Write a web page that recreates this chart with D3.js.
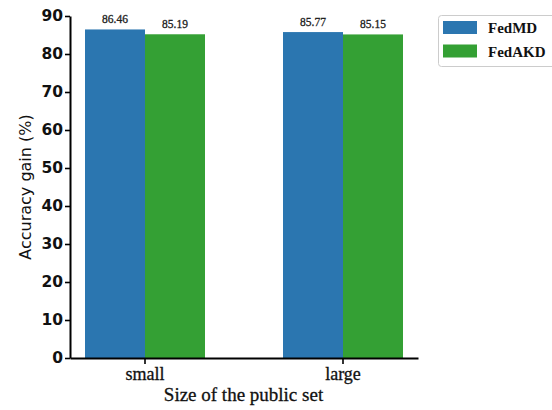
<!DOCTYPE html>
<html><head><meta charset="utf-8">
<script src="https://cdn.jsdelivr.net/npm/d3@7"></script>
<style>body{margin:0;background:#fff}svg{display:block}</style>
</head><body>
<svg id="c" width="552" height="410"></svg>
<script>
const categories = ["small", "large"];
const seriesNames = ["FedMD", "FedAKD"];
const fedMD = [86.46, 85.77];
const fedAKD = [85.19, 85.15];
const yTicks = [0, 10, 20, 30, 40, 50, 60, 70, 80, 90];
const colors = ["#2b76b0", "#34a034"];
const seriesValues = [fedMD, fedAKD];

const svg = d3.select("#c");
const x0 = d3.scaleBand().domain(categories).range([70, 418]).paddingInner(0.2424).paddingOuter(0);
const x1 = d3.scaleBand().domain(seriesNames).range([x0.bandwidth()/2 - 60, x0.bandwidth()/2 + 60]).padding(0);
const y = d3.scaleLinear().domain([0, 90]).range([358, 16]);

// bars
seriesNames.forEach((s, si) => {
  categories.forEach((c, ci) => {
    const v = seriesValues[si][ci];
    const bx = x0(c) + x1(s);
    svg.append("rect").attr("x", bx).attr("y", y(v)).attr("width", x1.bandwidth()).attr("height", y(0) - y(v)).attr("fill", colors[si]);
    svg.append("text").attr("x", bx + x1.bandwidth()/2).attr("y", y(v) - 6)
      .attr("text-anchor", "middle").attr("font-family", "Liberation Serif, serif").attr("font-size", 11.5)
      .attr("fill", "#222").attr("stroke", "#222").attr("stroke-width", 0.3).text(v.toFixed(2));
  });
});

// y axis
const yAxis = d3.axisLeft(y).tickValues(yTicks).tickSize(5).tickSizeOuter(0);
const gy = svg.append("g").attr("transform", "translate(70,0)").call(yAxis);
gy.select(".domain").attr("stroke", "#000").attr("stroke-width", 2);
gy.selectAll(".tick line").attr("stroke", "#000").attr("stroke-width", 1.6);
gy.selectAll(".tick text").attr("font-family", "DejaVu Sans, sans-serif").attr("font-weight", "bold").attr("font-size", 15.5).attr("fill", "#111").attr("x", -7);

// x axis
const gx = svg.append("g").attr("transform", "translate(0,358)").call(d3.axisBottom(x0).tickSize(6).tickSizeOuter(0));
gx.select(".domain").attr("stroke", "#000").attr("stroke-width", 2);
gx.selectAll(".tick line").attr("stroke", "#000").attr("stroke-width", 1.6);
gx.selectAll(".tick text").attr("font-family", "Liberation Serif, serif").attr("font-size", 18).attr("fill", "#111")
  .attr("stroke", "#111").attr("stroke-width", 0.3).attr("y", 9);

// axis titles
svg.append("text").attr("x", 243.5).attr("y", 401).attr("text-anchor", "middle")
  .attr("font-family", "Liberation Serif, serif").attr("font-size", 19).attr("fill", "#111")
  .attr("stroke", "#111").attr("stroke-width", 0.3).text("Size of the public set");
svg.append("text").attr("transform", "translate(31,187) rotate(-90)").attr("text-anchor", "middle")
  .attr("font-family", "DejaVu Sans, sans-serif").attr("font-size", 16).attr("fill", "#111").text("Accuracy gain (%)");

// legend
const lg = svg.append("g");
lg.append("rect").attr("x", 438.5).attr("y", 15.5).attr("width", 130).attr("height", 51).attr("rx", 3)
  .attr("fill", "#fff").attr("stroke", "#ccc").attr("stroke-width", 1);
seriesNames.forEach((s, i) => {
  lg.append("rect").attr("x", 443).attr("y", 21 + i*23.5).attr("width", 34).attr("height", 13).attr("fill", colors[i]);
  lg.append("text").attr("x", 488).attr("y", 33 + i*23.5).attr("font-family", "Liberation Serif, serif")
    .attr("font-weight", "bold").attr("font-size", 15).attr("fill", "#111").text(s);
});
</script>
</body></html>
